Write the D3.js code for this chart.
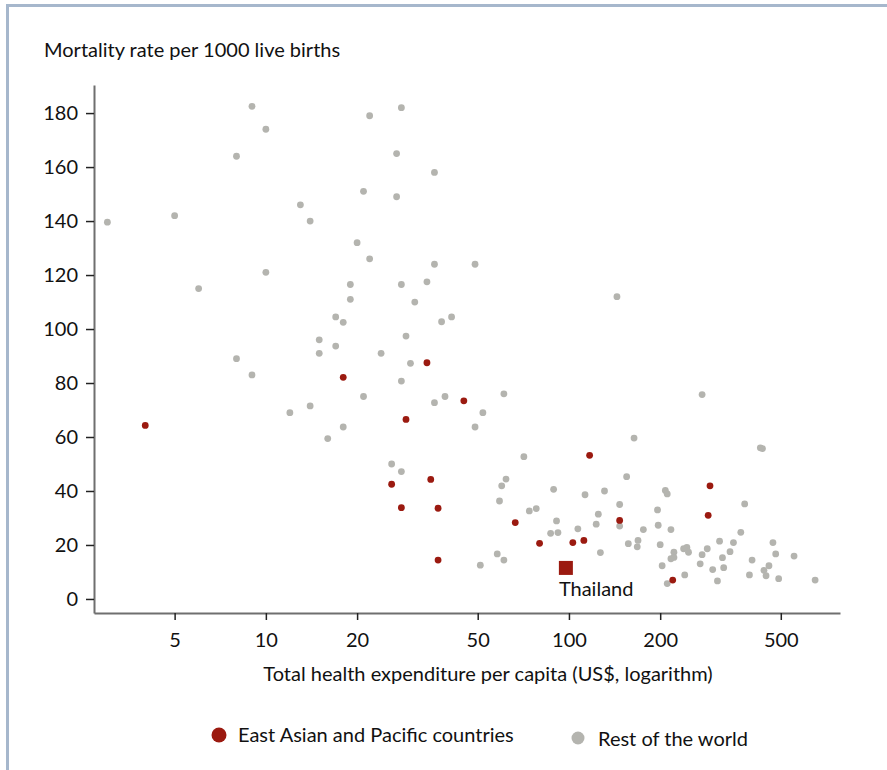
<!DOCTYPE html>
<html>
<head>
<meta charset="utf-8">
<script src="https://cdn.jsdelivr.net/npm/d3@7"></script>
<style>
  html, body { margin: 0; padding: 0; background: #fff; }
  svg text { font-family: Lato, "Open Sans", sans-serif; fill: #111; }
</style>
</head>
<body>
<svg id="chart" width="887" height="770"></svg>
<script>
// ---- DATA ----
const restX = [3,5,6,8,8,9,9,10,10,12,13,14,14,15,15,16,17,17,18,18,19,19,20,21,21,22,22,24,26,27,27,28,28,28,28,29,30,31,34,36,36,36,38,39,41,49,49,51,52,58,59,60,61,61,62,71,74,78,87,89,91,92,107,113,123,125,127,131,144,147,147,155,157,164,168,169,176,196,197,200,203,208,211,211,217,217,222,222,239,241,245,248,271,275,275,286,298,309,314,321,324,340,349,369,380,394,402,428,435,440,447,457,471,481,492,553,649];
const restY = [139.6,142,115,164,89,182.5,83,174,121,69,146,140,71.5,96,91,59.4,104.5,93.7,102.5,63.7,116.5,111,132,151,75,179,126,91,50,165,149,182,116.5,80.7,47.2,97.4,87.3,110,117.5,158,124,72.7,102.7,75,104.5,124,63.7,12.5,69,16.7,36.3,41.9,76,14.4,44.4,52.7,32.6,33.5,24.3,40.6,28.9,24.6,26,38.6,27.7,31.4,17.2,40,112,35,27,45.3,20.5,59.6,19.3,21.7,25.7,33,27.3,20.1,12.3,40.2,38.9,5.7,25.7,14.9,17.3,15.4,18.6,8.9,19.1,17.3,13,75.7,16.4,18.6,10.9,6.7,21.4,15.3,11.6,17.5,20.9,24.7,35.2,8.9,14.4,56,55.7,10.6,8.6,12.3,20.9,16.7,7.5,15.9,7];
const eapX = [4,18,26,28,29,34,35,37,37,45,66.5,80,103,112,117,147,220,288,292];
const eapY = [64.3,82.1,42.5,33.8,66.5,87.5,44.3,33.6,14.4,73.4,28.3,20.6,20.9,21.7,53.2,29.1,7,31,41.9];
const thailand = { name: "Thailand", x: 97.7, y: 11.5 };
const xTicks = [5, 10, 20, 50, 100, 200, 500];
const yTicks = [0, 20, 40, 60, 80, 100, 120, 140, 160, 180];
const yTitle = "Mortality rate per 1000 live births";
const xTitle = "Total health expenditure per capita (US$, logarithm)";
const legendLabels = ["East Asian and Pacific countries", "Rest of the world"];

// ---- STYLE ----
const RED = "#9b1a10", GREY = "#b4b4af", FRAME = "#a6b7cc";
const FS = 20;

const svg = d3.select("#chart");

// frame
svg.append("line").attr("x1", 6).attr("x2", 887).attr("y1", 5.5).attr("y2", 5.5)
  .attr("stroke", FRAME).attr("stroke-width", 3);
svg.append("line").attr("x1", 7.5).attr("x2", 7.5).attr("y1", 4).attr("y2", 770)
  .attr("stroke", FRAME).attr("stroke-width", 3);

const x = d3.scaleLog().domain([2.71, 784]).range([94, 840]);
const y = d3.scaleLinear().domain([-5.2, 190.4]).range([613, 85]);

// axes
const xAxis = svg.append("g").attr("transform", "translate(0,613)")
  .call(d3.axisBottom(x).tickValues(xTicks).tickFormat(d3.format("d")).tickSize(7).tickSizeOuter(0));
const yAxis = svg.append("g").attr("transform", "translate(94,0)")
  .call(d3.axisLeft(y).tickValues(yTicks).tickSize(8).tickSizeOuter(0));
[xAxis, yAxis].forEach(g => {
  g.select(".domain").attr("stroke", "#6f6f6f").attr("stroke-width", 2);
  g.selectAll(".tick line").attr("stroke", "#222").attr("stroke-width", 1.5);
  g.selectAll(".tick text").attr("font-size", FS).attr("font-family", "Lato, sans-serif").attr("fill", "#111");
});
xAxis.selectAll(".tick text").attr("dy", 24);
yAxis.selectAll(".tick text").attr("dx", -5);

// titles
svg.append("text").attr("x", 44).attr("y", 57).attr("font-size", FS).text(yTitle);
svg.append("text").attr("x", 488).attr("y", 681).attr("text-anchor", "middle").attr("font-size", FS).text(xTitle);

// points
const rest = restX.map((v, i) => ({ x: v, y: restY[i] }));
const eap = eapX.map((v, i) => ({ x: v, y: eapY[i] }));
svg.append("g").selectAll("circle").data(rest).join("circle")
  .attr("cx", d => x(d.x)).attr("cy", d => y(d.y)).attr("r", 3.4).attr("fill", GREY);
svg.append("g").selectAll("circle").data(eap).join("circle")
  .attr("cx", d => x(d.x)).attr("cy", d => y(d.y)).attr("r", 3.4).attr("fill", RED);

// Thailand
svg.append("rect").attr("x", x(thailand.x) - 7).attr("y", y(thailand.y) - 7)
  .attr("width", 14).attr("height", 14).attr("fill", RED);
svg.append("text").attr("x", x(thailand.x) - 7).attr("y", y(thailand.y) + 28)
  .attr("font-size", FS).text(thailand.name);

// legend
svg.append("circle").attr("cx", 219).attr("cy", 735).attr("r", 7.5).attr("fill", RED);
svg.append("text").attr("x", 238).attr("y", 742).attr("font-size", FS).text(legendLabels[0]);
svg.append("circle").attr("cx", 578).attr("cy", 738).attr("r", 6.5).attr("fill", GREY);
svg.append("text").attr("x", 598).attr("y", 746).attr("font-size", FS).text(legendLabels[1]);
</script>
</body>
</html>
